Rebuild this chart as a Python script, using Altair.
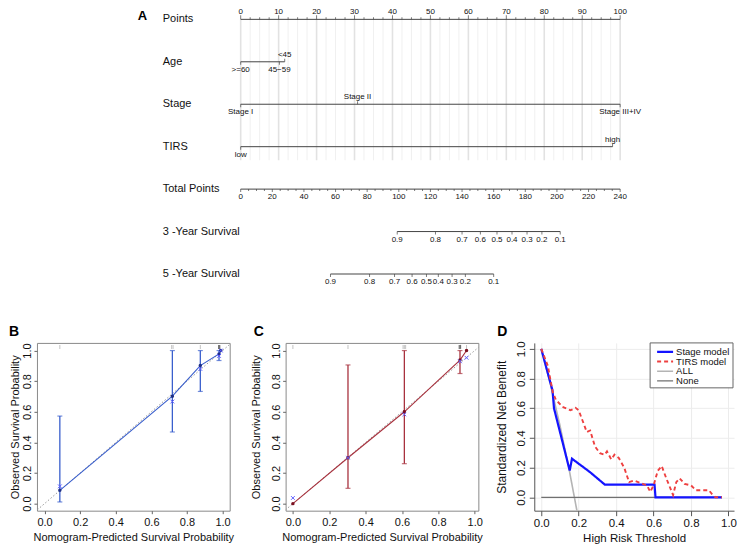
import altair as alt
import pandas as pd

FONT = "Liberation Sans"

# ---------------- data: panel A (nomogram) ----------------
row_names = ["Points", "Age", "Stage", "TIRS", "Total Points",
             "3 -Year Survival", "5 -Year Survival"]
points_major = [0, 10, 20, 30, 40, 50, 60, 70, 80, 90, 100]
points_minor = [i * 2.5 for i in range(41)]
age_labels = [">=60", "45\u221259", "<45"]
age_points = [0, 10.2, 11.6]
age_side = ["below", "below", "above"]
stage_labels = ["Stage I", "Stage II", "Stage III+IV"]
stage_points = [0, 30.8, 100]
stage_side = ["below", "above", "below"]
tirs_labels = ["low", "high"]
tirs_points = [0, 98]
tirs_side = ["below", "above"]
total_major = list(range(0, 241, 20))
total_minor = list(range(0, 241, 5))
surv_labels = ["0.9", "0.8", "0.7", "0.6", "0.5", "0.4", "0.3", "0.2", "0.1"]
surv3_total = [99.0, 123.2, 140.0, 151.6, 162.1, 171.6, 181.1, 190.5, 202.1]
surv5_total = [56.8, 81.5, 97.3, 108.4, 117.5, 125.0, 133.7, 142.1, 160.0]

# ---------------- data: panel B ----------------
b_pred = [0.086, 0.718, 0.875, 0.980, 0.990]
b_obs = [0.087, 0.702, 0.902, 0.978, 1.000]
b_lo = [0.011, 0.468, 0.733, 0.935, 1.000]
b_hi = [0.572, 1.000, 1.000, 1.000, 1.000]
b_corr = [0.113, 0.667, 0.880, 0.965, 1.000]
b_rug = [0.086, 0.714, 0.722, 0.875]
b_rug_dark = [0.978, 0.984]

# ---------------- data: panel C ----------------
c_pred = [0.0, 0.303, 0.613, 0.919, 0.955]
c_obs = [0.0, 0.300, 0.600, 0.938, 1.000]
c_lo = [0.0, 0.100, 0.261, 0.850, 1.000]
c_hi = [0.0, 0.906, 1.000, 1.000, 1.000]
c_corr = [0.037, 0.300, 0.583, 0.930, 0.953]
c_rug = [0.0, 0.303, 0.606, 0.613, 0.620, 0.955]
c_rug_dark = [0.915, 0.922]

ideal_line = [-0.1, 1.1]

# ---------------- data: panel D (decision curves) ----------------
models = ["Stage model", "TIRS model", "ALL", "None"]
stage_x = [0, 0.06, 0.068, 0.152, 0.164, 0.26, 0.34, 0.605, 0.61, 0.965]
stage_y = [1.0, 0.72, 0.60, 0.18, 0.26, 0.17, 0.085, 0.085, 0.0, 0.0]
tirs_x = [0, 0.035, 0.061, 0.078, 0.113, 0.156, 0.183, 0.2, 0.243, 0.261, 0.287,
          0.313, 0.339, 0.351, 0.374, 0.391, 0.414, 0.443, 0.469, 0.496, 0.539,
          0.565, 0.582, 0.6, 0.622, 0.643, 0.669, 0.704, 0.721, 0.739, 0.765,
          0.8, 0.826, 0.895, 0.913, 0.93, 0.965]
tirs_y = [1.0, 0.886, 0.71, 0.657, 0.61, 0.586, 0.603, 0.586, 0.44, 0.45, 0.342,
          0.298, 0.287, 0.309, 0.255, 0.287, 0.265, 0.2, 0.102, 0.113, 0.092,
          0.08, 0.037, 0.08, 0.178, 0.211, 0.124, 0.015, 0.102, 0.128, 0.091,
          0.08, 0.048, 0.048, 0.02, 0.0, 0.0]
all_x = [0, 0.05, 0.1, 0.15, 0.191]
all_y = [1.0, 0.755, 0.483, 0.18, -0.094]
none_x = [0, 0.965]
none_y = [0, 0]

# ================= Panel A =================
O_X = 36
W_A, H_A = 698, 300
PX_PT = 3.8
x_lo = (O_X - 240) / PX_PT
x_hi = x_lo + W_A / PX_PT
ROW_PX = 42.5
y_top = -(19 - 8) / ROW_PX
y_bot = y_top + H_A / ROW_PX
xA = alt.Scale(domain=[x_lo, x_hi], nice=False, zero=False)
yA = alt.Scale(domain=[y_top, y_bot], reverse=True, nice=False, zero=False)
TP = 100 / 240


def XA(f):
    return alt.X(f, type="quantitative", scale=xA, axis=None)


def YA(f):
    return alt.Y(f, type="quantitative", scale=yA, axis=None)


lab = []
for v in points_major:
    lab.append((v, 0, str(v), "above"))
for xs_, ls_, ss_, r in [(age_points, age_labels, age_side, 1),
                         (stage_points, stage_labels, stage_side, 2),
                         (tirs_points, tirs_labels, tirs_side, 3)]:
    for x, l, s in zip(xs_, ls_, ss_):
        lab.append((x, r, l, s))
for v in total_major:
    lab.append((v * TP, 4, str(v), "below"))
for v, l in zip(surv3_total, surv_labels):
    lab.append((v * TP, 5, l, "below"))
for v, l in zip(surv5_total, surv_labels):
    lab.append((v * TP, 6, l, "below"))
labels_df = pd.DataFrame(lab, columns=["x", "row", "label", "side"])

lines_df = pd.DataFrame({
    "row": [0, 1, 2, 3, 4, 5, 6],
    "x0": [0, min(age_points), min(stage_points), min(tirs_points), 0,
           min(surv3_total) * TP, min(surv5_total) * TP],
    "x1": [100, max(age_points), max(stage_points), max(tirs_points), 240 * TP,
           max(surv3_total) * TP, max(surv5_total) * TP],
})

tk = []
for v in points_minor:
    tk.append((v, 0, "up", 4 if v in points_major else 2))
for v, s in zip(age_points, age_side):
    tk.append((v, 1, "up" if s == "above" else "down", 3))
for v, s in zip(stage_points, stage_side):
    tk.append((v, 2, "up" if s == "above" else "down", 3))
for v, s in zip(tirs_points, tirs_side):
    tk.append((v, 3, "up" if s == "above" else "down", 3))
for v in total_minor:
    tk.append((v * TP, 4, "down", 3 if v in total_major else 2))
for v in surv3_total:
    tk.append((v * TP, 5, "down", 3))
for v in surv5_total:
    tk.append((v * TP, 6, "down", 3))
ticks_df = pd.DataFrame(tk, columns=["x", "row", "dir", "len"])

grid_df = pd.DataFrame({"x": points_minor,
                        "major": [v in points_major for v in points_minor]})
grid_df["r0"] = 0
grid_df["r1"] = 3.32

rows_df = pd.DataFrame({"name": row_names, "row": list(range(len(row_names)))})

a_layers = []
a_layers.append(alt.Chart(grid_df).transform_filter("!datum.major")
                .mark_rule(color="#f0f0f0", strokeWidth=1)
                .encode(x=XA("x"), y=YA("r0"), y2="r1"))
a_layers.append(alt.Chart(grid_df).transform_filter("datum.major")
                .mark_rule(color="#e2e2e2", strokeWidth=1.6)
                .encode(x=XA("x"), y=YA("r0"), y2="r1"))
a_layers.append(alt.Chart(lines_df).mark_rule(color="#444", strokeWidth=1)
                .encode(x=XA("x0"), x2="x1", y=YA("row")))
for d, ln in [("up", 4), ("up", 2), ("up", 3), ("down", 3), ("down", 2)]:
    off = -ln / 2 if d == "up" else ln / 2
    a_layers.append(
        alt.Chart(ticks_df)
        .transform_filter(f"datum.dir == '{d}' && datum.len == {ln}")
        .mark_tick(orient="vertical", size=ln, thickness=1, color="#444", yOffset=off)
        .encode(x=XA("x"), y=YA("row")))
a_layers.append(alt.Chart(labels_df).transform_filter("datum.side == 'above'")
                .mark_text(font=FONT, fontSize=8, baseline="middle", dy=-7, color="#111")
                .encode(x=XA("x"), y=YA("row"), text="label:N"))
a_layers.append(alt.Chart(labels_df).transform_filter("datum.side == 'below'")
                .mark_text(font=FONT, fontSize=8, baseline="middle", dy=8, color="#111")
                .encode(x=XA("x"), y=YA("row"), text="label:N"))
a_layers.append(alt.Chart(rows_df)
                .mark_text(font=FONT, fontSize=11, align="left", baseline="middle", color="#111")
                .encode(x=alt.value(162 - O_X), y=YA("row"), text="name:N"))
a_layers.append(alt.Chart(pd.DataFrame({"t": ["A"]}))
                .mark_text(font=FONT, fontSize=13, fontWeight="bold", align="left",
                           baseline="middle")
                .encode(x=alt.value(137 - O_X), y=alt.value(8), text="t:N"))
panel_a = alt.layer(*a_layers).properties(width=W_A, height=H_A)

# ================= Panels B and C =================
TICKS = [0, 0.2, 0.4, 0.6, 0.8, 1.0]
H_B = 168
W_B = 193


def calib(pred, obs, lo, hi, corr, rug, rug_dark, line_c, dot_c, x_c,
          letter, xdom, letter_x, title_x):
    df = pd.DataFrame(dict(pred=pred, obs=obs, lo=lo, hi=hi, corr=corr))
    xs = alt.Scale(domain=xdom, nice=False, zero=False)
    ys = alt.Scale(domain=[-0.046, 1.05], nice=False, zero=False)
    common = dict(values=TICKS, format=".1f", domain=False, grid=False,
                  tickSize=3, tickColor="#666", labelFontSize=11, labelFont=FONT,
                  labelColor="#111", labelFlush=False, titleFont=FONT,
                  titleFontSize=11, titleFontWeight="normal", titleColor="#111")
    xax = alt.Axis(title="Nomogram-Predicted Survival Probability", labelPadding=3,
                   titlePadding=4, **common)
    yax = alt.Axis(title="Observed Survival Probability", labelPadding=1,
                   labelAngle=270, labelAlign="center", labelBaseline="bottom",
                   titleAngle=270, titleAlign="center", titleBaseline="bottom",
                   titleX=title_x, **common)

    def X(f):
        return alt.X(f, type="quantitative", scale=xs, axis=xax)

    def Y(f):
        return alt.Y(f, type="quantitative", scale=ys, axis=yax)

    diag = alt.Chart(pd.DataFrame({"v": ideal_line})).mark_line(
        color="#999", strokeDash=[1.5, 2], strokeWidth=1, clip=True).encode(
        x=X("v"), y=Y("v"))
    line = alt.Chart(df).mark_line(color=line_c, strokeWidth=1.1).encode(
        x=X("pred"), y=Y("obs"))
    bars_src = alt.Chart(df).transform_filter("datum.hi > datum.lo")
    bars = bars_src.mark_rule(color=line_c, strokeWidth=1.3).encode(
        x=X("pred"), y=Y("lo"), y2="hi")
    cap_lo = bars_src.mark_tick(orient="horizontal", size=5, thickness=1.2,
                                color=line_c).encode(x=X("pred"), y=Y("lo"))
    cap_hi = bars_src.mark_tick(orient="horizontal", size=5, thickness=1.2,
                                color=line_c).encode(x=X("pred"), y=Y("hi"))
    dots = alt.Chart(df).mark_point(shape="circle", filled=True, size=12,
                                    color=dot_c, opacity=1).encode(
        x=X("pred"), y=Y("obs"))
    crosses = alt.Chart(df).mark_point(shape="M-1,-1L1,1M-1,1L1,-1", filled=False,
                                       size=14, color=x_c, strokeWidth=1,
                                       opacity=1).encode(x=X("pred"), y=Y("corr"))
    rug1 = alt.Chart(pd.DataFrame({"r": rug})).mark_tick(
        orient="vertical", size=4, thickness=1, color="#aaa").encode(
        x=X("r"), y=alt.value(4))
    rug2 = alt.Chart(pd.DataFrame({"r": rug_dark})).mark_tick(
        orient="vertical", size=4, thickness=1.2, color="#333").encode(
        x=X("r"), y=alt.value(4))
    let = alt.Chart(pd.DataFrame({"t": [letter]})).mark_text(
        font=FONT, fontSize=14, fontWeight="bold", align="left",
        baseline="middle").encode(x=alt.value(letter_x), y=alt.value(-11), text="t:N")
    return alt.layer(diag, line, bars, cap_lo, cap_hi, dots, crosses, rug1, rug2,
                     let).properties(
        width=W_B, height=H_B,
        view=alt.ViewBackground(stroke="#8a8a8a", strokeWidth=1))


panel_b = calib(b_pred, b_obs, b_lo, b_hi, b_corr, b_rug, b_rug_dark,
                "#3a5fcd", "#1f2f85", "#5a5aff", "B", [-0.0425, 1.04], -28, -16)
panel_c = calib(c_pred, c_obs, c_lo, c_hi, c_corr, c_rug, c_rug_dark,
                "#a8323e", "#7a1020", "#6060ff", "C", [-0.04, 1.02], -32, -24)

# ================= Panel D =================
dcol = ["#1414ff", "#ee4040", "#b4b4b4", "#707070"]
ddash = [[1, 0], [4, 3], [1, 0], [1, 0]]
dwid = [2.2, 1.3, 1, 1.2]

curves = []
for m, xs_, ys_ in [("Stage model", stage_x, stage_y), ("TIRS model", tirs_x, tirs_y),
                    ("ALL", all_x, all_y), ("None", none_x, none_y)]:
    for i, (a, b) in enumerate(zip(xs_, ys_)):
        curves.append((m, i, a, b))
curves_df = pd.DataFrame(curves, columns=["model", "i", "x", "y"])

W_D = 200
xD = alt.Scale(domain=[-0.0373, -0.0373 + W_D / 187.5], nice=False, zero=False)
yD = alt.Scale(domain=[-0.09, 1.04], nice=False, zero=False)
d_common = dict(values=TICKS, format=".1f", grid=True, gridColor="#ececec",
                gridWidth=1, domainColor="#555", tickColor="#555", tickSize=5,
                labelFontSize=11.5, labelFont=FONT, labelColor="#111", labelFlush=False,
                titleFont=FONT, titleFontWeight="normal", titleColor="#111")
xaxD = alt.Axis(title="High Risk Threshold", labelPadding=2, titlePadding=3,
                titleFontSize=11.5, **d_common)
yaxD = alt.Axis(title="Standardized Net Benefit", labelPadding=3, labelAngle=270,
                labelAlign="center", labelBaseline="bottom", titleAngle=270,
                titleAlign="center", titleBaseline="bottom", titleX=-26,
                titleFontSize=12, **d_common)
col_enc = alt.Color("model:N", scale=alt.Scale(domain=models, range=dcol), legend=None)
dash_enc = alt.StrokeDash("model:N", scale=alt.Scale(domain=models, range=ddash), legend=None)
wid_enc = alt.StrokeWidth("model:O", scale=alt.Scale(domain=models, range=dwid), legend=None)

ref_lines = alt.Chart(curves_df).transform_filter(
    "datum.model == 'ALL' || datum.model == 'None'").mark_line(clip=True).encode(
    x=alt.X("x:Q", scale=xD, axis=xaxD), y=alt.Y("y:Q", scale=yD, axis=yaxD),
    color=col_enc, strokeDash=dash_enc, strokeWidth=wid_enc, order="i:Q")
model_lines = alt.Chart(curves_df).transform_filter(
    "datum.model == 'Stage model' || datum.model == 'TIRS model'").mark_line(
    clip=True).encode(
    x=alt.X("x:Q", scale=xD, axis=xaxD), y=alt.Y("y:Q", scale=yD, axis=yaxD),
    color=col_enc, strokeDash=dash_enc, strokeWidth=wid_enc, order="i:Q")
d_letter = alt.Chart(pd.DataFrame({"t": ["D"]})).mark_text(
    font=FONT, fontSize=14, fontWeight="bold", align="left", baseline="middle").encode(
    x=alt.value(-37), y=alt.value(-11), text="t:N")
d_main = alt.layer(ref_lines, model_lines, d_letter)

leg_df = pd.DataFrame({"model": models})
leg_y = alt.Y("model:N", scale=alt.Scale(type="point", domain=models, range=[9, 38],
                                          padding=0), axis=None)
leg_box = alt.Chart(pd.DataFrame({"k": [0]})).mark_rect(
    fill="white", stroke="#666", strokeWidth=1).encode(
    x=alt.value(116), x2=alt.value(199), y=alt.value(0), y2=alt.value(45))
leg_sym = alt.Chart(leg_df).mark_rule().encode(
    x=alt.value(123), x2=alt.value(139), y=leg_y,
    color=col_enc, strokeDash=dash_enc, strokeWidth=wid_enc)
leg_txt = alt.Chart(leg_df).mark_text(font=FONT, fontSize=9.5, align="left",
                                      baseline="middle", color="#111").encode(
    x=alt.value(142), y=leg_y, text="model:N")
d_leg = alt.layer(leg_box, leg_sym, leg_txt)

panel_d = alt.layer(d_main, d_leg).resolve_scale(y="independent").properties(
    width=W_D, height=H_B)

bottom = alt.hconcat(panel_b, panel_c, panel_d, spacing=56, bounds="flush")
chart = alt.vconcat(panel_a, bottom, spacing=35, bounds="flush").properties(
    padding=0, background="white").configure_view(strokeWidth=0)

chart.save("out.html", embed_options={"renderer": "svg", "actions": False})
